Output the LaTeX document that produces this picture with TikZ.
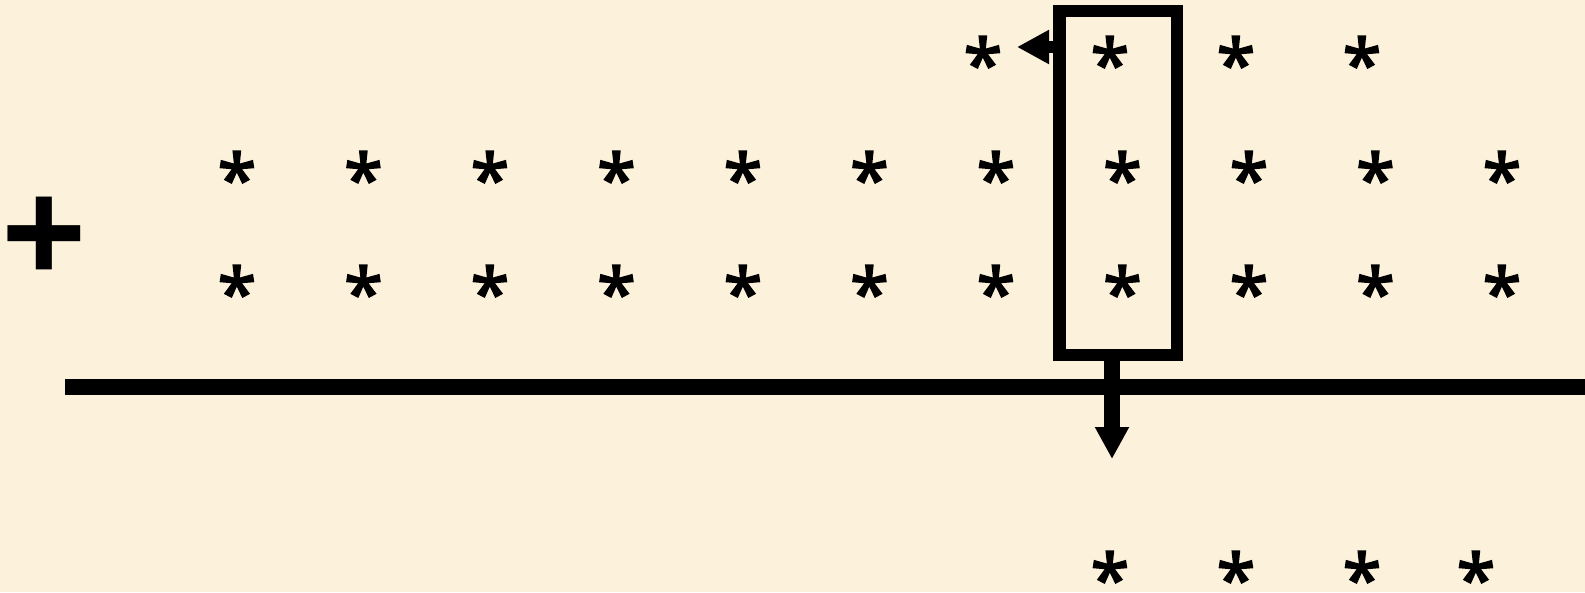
\documentclass[tikz,border=0pt]{standalone}
\usepackage{fontspec}
\usetikzlibrary{arrows.meta}
\newfontfamily\astfont[FakeBold=2.5]{Noto Sans}
\newfontfamily\plusfont{Open Sans}
\definecolor{bg}{RGB}{252,241,219}
\newcommand{\astglyph}{\raisebox{-17pt}[37pt][0pt]{*}}
\tikzset{
  ast/.style={font=\astfont\fontsize{70}{70}\selectfont, anchor=center, inner sep=0pt},
  plus/.style={font=\plusfont\bfseries\fontsize{150}{150}\selectfont, anchor=base, inner sep=0pt},
  frame/.style={draw, line width=12.5pt, inner sep=0pt, minimum width=117.5pt, minimum height=344pt},
  arrL/.style={line width=12.5pt, -{Triangle[length=32pt,width=32pt]}},
  arrD/.style={line width=16pt, -{Triangle[length=32pt,width=32pt]}},
  rule/.style={line width=16pt}
}
\begin{document}
\begin{tikzpicture}[x=1pt,y=-1pt]
\fill[bg] (0,0) rectangle (1585,592);
\useasboundingbox (0,0) rectangle (1585,592);
% plus sign
\node[plus] (pl) at (44,286) {+};
% top row
\foreach \x [count=\i] in {983,1110,1236,1362}{
  \node[ast] (t\i) at (\x,54) {\astglyph};
}
% rows 2 and 3
\foreach \k in {0,...,10}{
  \node[ast] (a\k) at (237+126.5*\k,169) {\astglyph};
  \node[ast] (b\k) at (237+126.5*\k,283) {\astglyph};
}
% bottom row
\foreach \x [count=\i] in {1110,1236,1362,1476}{
  \node[ast] (r\i) at (\x,569) {\astglyph};
}
% frame
\node[frame] (box) at (1118.25,183) {};
% rule
\coordinate (rl) at (65,387);
\coordinate (rr) at (1585,387);
\draw[rule] (rl) -- (rr);
% arrows
\coordinate (lt) at (1017,47);
\draw[arrL] (box.west |- lt) -- (lt);
\coordinate (dt) at (1112,459);
\draw[arrD] (box.south -| dt) -- (dt);
\end{tikzpicture}
\end{document}
